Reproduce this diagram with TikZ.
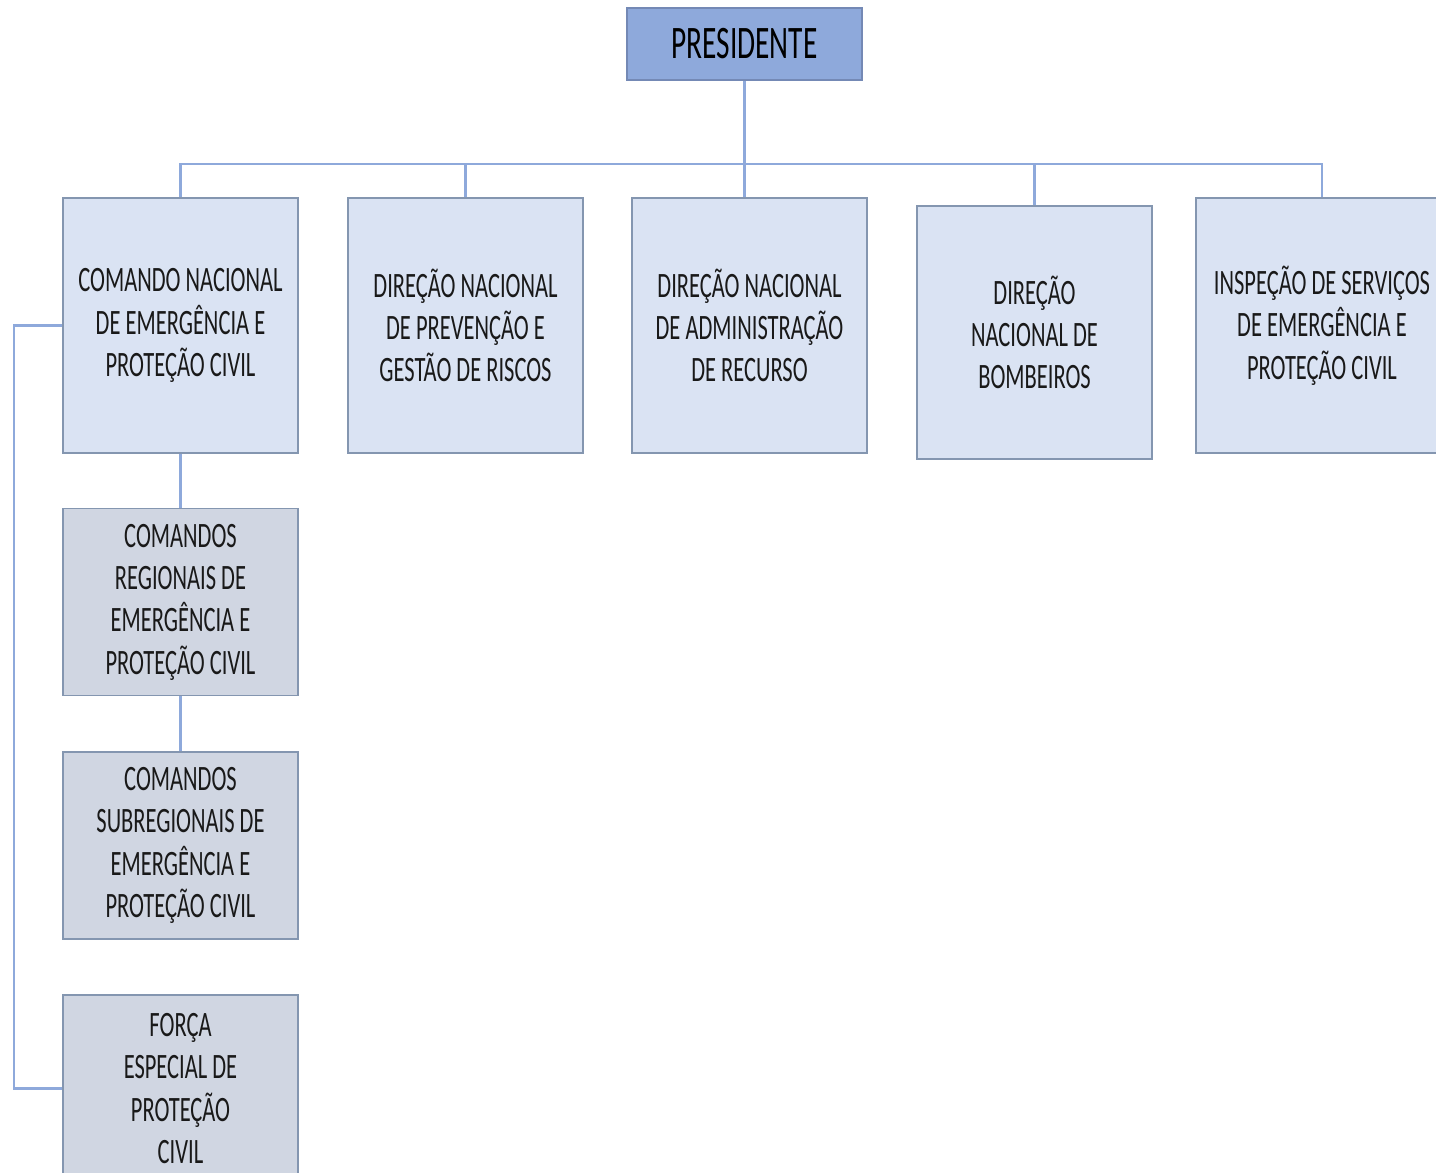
\documentclass[tikz,border=0pt]{standalone}
\usepackage{fontspec}
\setmainfont{Carlito}[FakeStretch=0.63]
\definecolor{conncol}{HTML}{8EA9DB}
\definecolor{presfill}{HTML}{8EA9DB}
\definecolor{presdraw}{HTML}{7489B5}
\definecolor{lightfill}{HTML}{DAE3F3}
\definecolor{boxdraw}{HTML}{8496B0}
\definecolor{grayfill}{HTML}{D0D6E2}
\tikzset{
  orgbox/.style={draw=boxdraw, line width=1.8pt, inner sep=0pt, align=center,
    font=\fontsize{35.7}{42.3}\selectfont, text=black!90},
  lightbox/.style={orgbox, fill=lightfill, minimum width=235pt, minimum height=255pt},
  graybox/.style={orgbox, fill=grayfill, minimum width=235pt, minimum height=187pt},
  presbox/.style={draw=presdraw, line width=1.8pt, fill=presfill, inner sep=0pt,
    minimum width=235pt, minimum height=72pt, font=\fontsize{46.6}{50}\selectfont},
  conn/.style={draw=conncol, line width=2.6pt}
}
\begin{document}
\begin{tikzpicture}[x=1pt,y=-1pt]
\clip (0,0) rectangle (1436,1173);
\fill[white] (0,0) rectangle (1436,1173);
% nodes
\node[presbox] (pres) at (744.5,44) {PRESIDENTE};
\node[lightbox] (n1) at (180.5,325.5) {COMANDO NACIONAL\\DE EMERGÊNCIA E\\PROTEÇÃO CIVIL};
\node[lightbox] (n2) at (465.5,325.5) {DIREÇÃO NACIONAL\\DE PREVENÇÃO E\\GESTÃO DE RISCOS};
\node[lightbox] (n3) at (749.5,325.5) {DIREÇÃO NACIONAL\\DE ADMINISTRAÇÃO\\DE RECURSO};
\node[lightbox, minimum height=253pt] (n4) at (1034.5,332.5) {DIREÇÃO\\NACIONAL DE\\BOMBEIROS};
\node[lightbox, minimum width=252pt] (n5) at (1322,325.5) {INSPEÇÃO DE SERVIÇOS\\DE EMERGÊNCIA E\\PROTEÇÃO CIVIL};
\node[graybox] (n6) at (180.5,602) {COMANDOS\\REGIONAIS DE\\EMERGÊNCIA E\\PROTEÇÃO CIVIL};
\node[graybox] (n7) at (180.5,845.5) {COMANDOS\\SUBREGIONAIS DE\\EMERGÊNCIA E\\PROTEÇÃO CIVIL};
\node[graybox] (n8) at (180.5,1088.5) {FORÇA\\ESPECIAL DE\\PROTEÇÃO\\CIVIL};
% connectors
\coordinate (bus) at (0,164);
\coordinate (lx) at (14,0);
\draw[conn] (n1.north) -- (n1.north |- bus) -- (n5.north |- bus) -- (n5.north);
\draw[conn] (pres.south) -- (pres.south |- n3.north);
\draw[conn] (n2.north |- bus) -- (n2.north);
\draw[conn] (n4.north |- bus) -- (n4.north);
\draw[conn] (n1.south) -- (n6.north);
\draw[conn] (n6.south) -- (n7.north);
\draw[conn] (n1.west) -- (n1.west -| lx) |- (n8.west);
\end{tikzpicture}
\end{document}
